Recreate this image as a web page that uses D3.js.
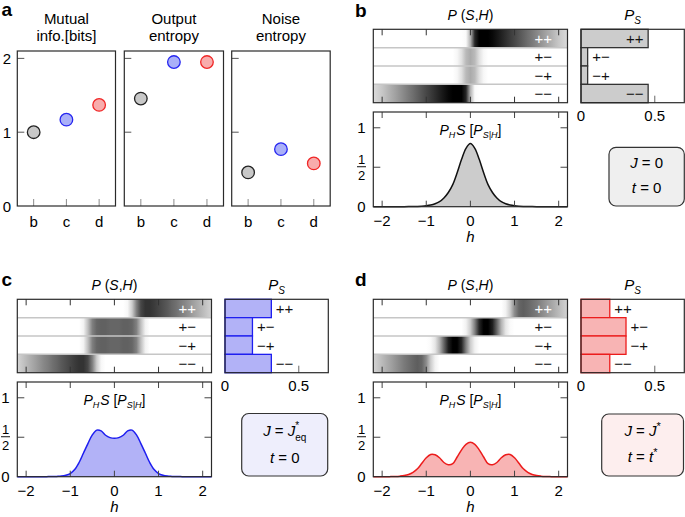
<!DOCTYPE html>
<html><head><meta charset="utf-8">
<script src="https://cdn.jsdelivr.net/npm/d3@7"></script>
<style>
body{margin:0;background:#fff}
svg{display:block}
text{font-family:"Liberation Sans",Arial,Helvetica,sans-serif}
</style>
</head><body>
<svg id="chart" width="685" height="517"></svg>
<script>
// ---------------- DATA ----------------
const cats = ["b", "c", "d"];
const mutualInfo = [1.0, 1.17, 1.37];
const outputEntropy = [1.455, 1.95, 1.95];
const noiseEntropy = [0.455, 0.77, 0.577];
const aTitles = [["Mutual", "info.[bits]"], ["Output", "entropy"], ["Noise", "entropy"]];
const aYTicks = [0, 1, 2];

const states = ["++", "+\u2212", "\u2212+", "\u2212\u2212"];
const hTicks = [-2, -1, 0, 1, 2];
const psTicks = [0, 0.5];

const hGrid = [-2.2,-2.1,-2.0,-1.9,-1.8,-1.7,-1.6,-1.5,-1.4,-1.3,-1.2,-1.1,-1.0,-0.9,-0.8,-0.7,-0.6,-0.5,-0.4,-0.3,-0.2,-0.1,0,0.1,0.2,0.3,0.4,0.5,0.6,0.7,0.8,0.9,1.0,1.1,1.2,1.3,1.4,1.5,1.6,1.7,1.8,1.9,2.0,2.1,2.2];

// P(S,H) intensity (1 = black) per row, panel b
const heatB_pp = [0,0,0,0,0,0,0,0,0,0,0,0,0,0,0,0,0,0,0,0,0,0.02,0.3,0.85,1,1,1,0.97,0.92,0.87,0.82,0.77,0.72,0.67,0.62,0.57,0.52,0.47,0.42,0.37,0.32,0.27,0.22,0.18,0.14];
const heatB_pm = [0,0,0,0,0,0,0,0,0,0,0,0,0,0,0,0,0,0,0,0.03,0.12,0.27,0.33,0.27,0.12,0.03,0,0,0,0,0,0,0,0,0,0,0,0,0,0,0,0,0,0,0];
const heatB_mp = [0,0,0,0,0,0,0,0,0,0,0,0,0,0,0,0,0,0,0,0.03,0.12,0.27,0.33,0.27,0.12,0.03,0,0,0,0,0,0,0,0,0,0,0,0,0,0,0,0,0,0,0];
const heatB_mm = [0.14,0.18,0.22,0.27,0.32,0.37,0.42,0.47,0.52,0.57,0.62,0.67,0.72,0.77,0.82,0.87,0.92,0.97,1,1,1,0.85,0.3,0.02,0,0,0,0,0,0,0,0,0,0,0,0,0,0,0,0,0,0,0,0,0];
// panel c
const heatC_pp = [0,0,0,0,0,0,0,0,0,0,0,0,0,0,0,0,0,0,0,0,0,0,0,0,0,0.03,0.2,0.5,0.72,0.8,0.8,0.77,0.73,0.69,0.65,0.6,0.56,0.51,0.47,0.42,0.37,0.32,0.27,0.22,0.17];
const heatC_pm = [0,0,0,0,0,0,0,0,0,0,0,0,0,0,0,0.05,0.25,0.5,0.6,0.62,0.62,0.6,0.6,0.6,0.62,0.62,0.6,0.5,0.25,0.05,0,0,0,0,0,0,0,0,0,0,0,0,0,0,0];
const heatC_mp = [0,0,0,0,0,0,0,0,0,0,0,0,0,0,0,0.05,0.25,0.5,0.6,0.62,0.62,0.6,0.6,0.6,0.62,0.62,0.6,0.5,0.25,0.05,0,0,0,0,0,0,0,0,0,0,0,0,0,0,0];
const heatC_mm = [0.17,0.22,0.27,0.32,0.37,0.42,0.47,0.51,0.56,0.6,0.65,0.69,0.73,0.77,0.8,0.8,0.72,0.5,0.2,0.03,0,0,0,0,0,0,0,0,0,0,0,0,0,0,0,0,0,0,0,0,0,0,0,0,0];
// panel d
const heatD_pp = [0,0,0,0,0,0,0,0,0,0,0,0,0,0,0,0,0,0,0,0,0,0,0,0,0,0,0,0,0,0,0.05,0.2,0.45,0.6,0.63,0.6,0.56,0.52,0.47,0.42,0.37,0.32,0.27,0.22,0.17];
const heatD_pm = [0,0,0,0,0,0,0,0,0,0,0,0,0,0,0,0,0,0,0,0,0,0.05,0.2,0.5,0.85,1,1,0.88,0.6,0.3,0.1,0.02,0,0,0,0,0,0,0,0,0,0,0,0,0];
const heatD_mp = [0,0,0,0,0,0,0,0,0,0,0,0,0,0.02,0.1,0.3,0.6,0.88,1,1,0.85,0.5,0.2,0.05,0,0,0,0,0,0,0,0,0,0,0,0,0,0,0,0,0,0,0,0,0];
const heatD_mm = [0.17,0.22,0.27,0.32,0.37,0.42,0.47,0.52,0.56,0.6,0.63,0.6,0.45,0.2,0.05,0,0,0,0,0,0,0,0,0,0,0,0,0,0,0,0,0,0,0,0,0,0,0,0,0,0,0,0,0,0];

// P_S bars
const psB = [0.455, 0.045, 0.045, 0.455];
const psC = [0.314, 0.186, 0.186, 0.314];
const psD = [0.195, 0.305, 0.305, 0.195];

// P_H S[P_S|H] curves on hGrid
const curveB = [0,0,0,0,0,0,0,0,0.001,0.002,0.004,0.007,0.012,0.021,0.037,0.063,0.11,0.18,0.28,0.43,0.60,0.74,0.80,0.74,0.60,0.43,0.28,0.18,0.11,0.063,0.037,0.021,0.012,0.007,0.004,0.002,0.001,0,0,0,0,0,0,0,0];
const curveC = [0,0,0,0,0,0,0,0.001,0.002,0.004,0.008,0.018,0.04,0.09,0.18,0.30,0.42,0.53,0.59,0.58,0.525,0.495,0.486,0.495,0.525,0.58,0.59,0.53,0.42,0.30,0.18,0.09,0.04,0.018,0.008,0.004,0.002,0.001,0,0,0,0,0,0,0];
const curveD = [0,0,0,0,0.001,0.003,0.007,0.014,0.028,0.055,0.10,0.17,0.24,0.282,0.278,0.24,0.18,0.152,0.165,0.25,0.34,0.41,0.435,0.41,0.34,0.25,0.165,0.152,0.18,0.24,0.278,0.282,0.24,0.17,0.10,0.055,0.028,0.014,0.007,0.003,0.001,0,0,0,0];

// ---------------- DRAW ----------------
const svg = d3.select("#chart");
const defs = svg.append("defs");
const FONT = "15px";
const DARK = "#2a2a2a";

function rich(sel, segs) {
  let cur = 0;
  segs.forEach(s => {
    const target = s.sub ? (s.sub === true ? 4 : s.sub) : s.sup ? (s.sup === true || s.sup === 1 ? -6 : s.sup) : 0;
    const ts = sel.append("tspan").text(s.t);
    if (target - cur !== 0) ts.attr("dy", target - cur);
    cur = target;
    if (s.i) ts.attr("font-style", "italic");
    if (s.fs) ts.attr("font-size", s.fs);
    if (s.dx) ts.attr("dx", s.dx);
  });
}

// panel letters
[["a", 1.5, 16], ["b", 355, 17], ["c", 1.5, 286], ["d", 355, 286]].forEach(([t, x, y]) =>
  svg.append("text").attr("x", x).attr("y", y).attr("font-size", "19px").attr("font-weight", "bold").text(t));

// ---------- Panel a ----------
const aData = [mutualInfo, outputEntropy, noiseEntropy];
const aX = [[17.3, 115.5], [124.3, 223.5], [231.7, 330.2]];
const yA = d3.scaleLinear().domain([0, 2.1]).range([206, 51]);
const aFill = ["#c8c8c8", "#aab0f8", "#f8acac"];
const aStroke = ["#222222", "#2626f0", "#f02626"];
aData.forEach((vals, k) => {
  const g = svg.append("g");
  const x = d3.scalePoint().domain(cats).range(aX[k]).padding(0.5);
  const [x0, x1] = aX[k];
  g.selectAll(".bt").data(cats).join("line")
    .attr("x1", d => x(d)).attr("x2", d => x(d))
    .attr("y1", yA(0)).attr("y2", yA(0) - 7)
    .attr("stroke", "#8a8a8a").attr("stroke-width", 1);
  g.selectAll(".lt").data(aYTicks.filter(t => t > 0)).join("line")
    .attr("x1", x0).attr("x2", x0 + 7)
    .attr("y1", d => yA(d)).attr("y2", d => yA(d))
    .attr("stroke", "#555").attr("stroke-width", 1);
  g.append("rect").attr("x", x0).attr("y", yA(2.1)).attr("width", x1 - x0).attr("height", yA(0) - yA(2.1))
    .attr("fill", "none").attr("stroke", DARK).attr("stroke-width", 1.2);
  g.selectAll(".lab").data(cats).join("text")
    .attr("x", d => x(d)).attr("y", 226.5).attr("text-anchor", "middle").attr("font-size", FONT).text(d => d);
  if (k === 0) {
    g.selectAll(".yl").data(aYTicks).join("text")
      .attr("x", 7).attr("y", d => yA(d) + 5.5).attr("text-anchor", "middle").attr("font-size", FONT).text(d => d);
  }
  aTitles[k].forEach((s, i) => g.append("text").attr("x", (x0 + x1) / 2).attr("y", 23.5 + i * 17.5)
    .attr("text-anchor", "middle").attr("font-size", FONT).text(s));
  g.selectAll("circle").data(vals).join("circle")
    .attr("cx", (d, i) => x(cats[i])).attr("cy", d => yA(d)).attr("r", 6.3)
    .attr("fill", (d, i) => aFill[i]).attr("stroke", (d, i) => aStroke[i]).attr("stroke-width", 1.3);
});

// ---------- Panels b, c, d ----------
const grey = d3.scaleLinear().domain([0, 1]).range(["#ffffff", "#000000"]);
const panels = [
  { id: "b", dx: 0, dy: 0, heat: [heatB_pp, heatB_pm, heatB_mp, heatB_mm], ps: psB, curve: curveB,
    fill: "#cccccc", stroke: "#111111", psFill: "#cccccc", psStroke: "#333333", boxFill: "#efefef",
    box: [609, 147.3, 684.3, 206],
    line1: [{ t: "J", i: 1 }, { t: " = 0" }], line2: [{ t: "t", i: 1 }, { t: " = 0" }], l1y: 168.3, l2y: 193 },
  { id: "c", dx: -356, dy: 270, heat: [heatC_pp, heatC_pm, heatC_mp, heatC_mm], ps: psC, curve: curveC,
    fill: "#b2b2f7", stroke: "#1e1ef0", psFill: "#b2b2f7", psStroke: "#1e1ef0", boxFill: "#eeeefc",
    box: [597.7, 143.5, 683.7, 206],
    line1: [{ t: "J", i: 1 }, { t: " = " }, { t: "J", i: 1 }, { t: "*", sup: -7, fs: "10px" }, { t: "eq", sub: 5, fs: "10px", dx: -4 }],
    line2: [{ t: "t", i: 1 }, { t: " = 0" }], l1y: 165.5, l2y: 193 },
  { id: "d", dx: 0, dy: 270, heat: [heatD_pp, heatD_pm, heatD_mp, heatD_mm], ps: psD, curve: curveD,
    fill: "#f8b4b4", stroke: "#ec1c1c", psFill: "#f8b4b4", psStroke: "#ec1c1c", boxFill: "#fdeeee",
    box: [601.7, 144, 683.5, 206],
    line1: [{ t: "J", i: 1 }, { t: " = " }, { t: "J", i: 1 }, { t: "*", sup: 1, fs: "11px" }],
    line2: [{ t: "t", i: 1 }, { t: " = " }, { t: "t", i: 1 }, { t: "*", sup: 1, fs: "11px" }], l1y: 166, l2y: 192 }
];

panels.forEach(p => {
  const g = svg.append("g").attr("transform", `translate(${p.dx},${p.dy})`);
  const xH = d3.scaleLinear().domain([-2.2, 2.2]).range([373.3, 567.5]);
  const [hx0, hx1] = xH.range();
  const yRow = d3.scaleBand().domain(states).range([29.3, 102.7]);
  const [hy0, hy1] = yRow.range();

  rich(g.append("text").attr("x", (hx0 + hx1) / 2).attr("y", 20).attr("text-anchor", "middle").attr("font-size", "14px"),
    [{ t: "P", i: 1 }, { t: " (" }, { t: "S", i: 1 }, { t: "," }, { t: "H", i: 1 }, { t: ")" }]);

  p.heat.forEach((vals, r) => {
    const id = `grad-${p.id}-${r}`;
    const lg = defs.append("linearGradient").attr("id", id).attr("gradientUnits", "userSpaceOnUse")
      .attr("x1", hx0).attr("x2", hx1).attr("y1", 0).attr("y2", 0);
    hGrid.forEach((h, i) => lg.append("stop")
      .attr("offset", (xH(h) - hx0) / (hx1 - hx0)).attr("stop-color", grey(vals[i])));
    g.append("rect").attr("x", hx0).attr("y", yRow(states[r])).attr("width", hx1 - hx0)
      .attr("height", yRow.bandwidth()).attr("fill", `url(#${id})`);
  });
  g.selectAll(".sep").data(states.slice(1)).join("line")
    .attr("x1", hx0).attr("x2", hx1).attr("y1", d => yRow(d)).attr("y2", d => yRow(d))
    .attr("stroke", "#c6c6c6").attr("stroke-width", 1.5);
  g.selectAll(".ht").data(hTicks).join("line")
    .attr("x1", d => xH(d)).attr("x2", d => xH(d)).attr("y1", hy0).attr("y2", hy0 + 6)
    .attr("stroke", "#333").attr("stroke-width", 1);
  g.selectAll(".hb").data(hTicks).join("line")
    .attr("x1", d => xH(d)).attr("x2", d => xH(d)).attr("y1", hy1).attr("y2", hy1 - 6)
    .attr("stroke", "#333").attr("stroke-width", 1);
  g.append("rect").attr("x", hx0).attr("y", hy0).attr("width", hx1 - hx0).attr("height", hy1 - hy0)
    .attr("fill", "none").attr("stroke", DARK).attr("stroke-width", 1.2);
  g.selectAll(".rl").data(states).join("text")
    .attr("x", xH(1.65)).attr("y", d => yRow(d) + yRow.bandwidth() / 2 + 5.5)
    .attr("text-anchor", "middle").attr("font-size", FONT)
    .attr("fill", (d, i) => i === 0 ? "#ffffff" : "#111").text(d => d);

  const xP = d3.scaleLinear().domain([0, 0.7]).range([581, 684.3]);
  rich(g.append("text").attr("x", (xP(0) + xP(0.7)) / 2).attr("y", 20).attr("text-anchor", "middle").attr("font-size", FONT),
    [{ t: "P", i: 1 }, { t: "S", i: 1, sub: 4, fs: "10px" }]);
  g.selectAll(".bar").data(p.ps).join("rect")
    .attr("x", xP(0)).attr("y", (d, i) => yRow(states[i]))
    .attr("width", d => xP(d) - xP(0)).attr("height", yRow.bandwidth())
    .attr("fill", p.psFill).attr("stroke", p.psStroke).attr("stroke-width", 1.3);
  g.append("line").attr("x1", xP(0.5)).attr("x2", xP(0.5)).attr("y1", hy1).attr("y2", hy1 - 7)
    .attr("stroke", "#666").attr("stroke-width", 1);
  g.append("rect").attr("x", xP(0)).attr("y", hy0).attr("width", xP(0.7) - xP(0)).attr("height", hy1 - hy0)
    .attr("fill", "none").attr("stroke", DARK).attr("stroke-width", 1.2);
  g.selectAll(".pl").data(p.ps).join("text")
    .attr("x", d => d > 0.4 ? xP(d) - 4.5 : xP(d) + 4.5)
    .attr("text-anchor", d => d > 0.4 ? "end" : "start")
    .attr("y", (d, i) => yRow(states[i]) + yRow.bandwidth() / 2 + 5.5)
    .attr("font-size", FONT).attr("fill", "#111").text((d, i) => states[i]);
  g.selectAll(".pt").data(psTicks).join("text")
    .attr("x", d => xP(d)).attr("y", 120.5).attr("text-anchor", "middle").attr("font-size", FONT).text(d => d);

  const yL = d3.scaleLinear().domain([0, 1.2]).range([206.7, 112]);
  const [ly0, ly1] = [yL(1.2), yL(0)];
  const area = d3.area().x((d, i) => xH(hGrid[i])).y0(yL(0)).y1(d => yL(d)).curve(d3.curveCatmullRom);
  const line = d3.line().x((d, i) => xH(hGrid[i])).y(d => yL(d)).curve(d3.curveCatmullRom);
  g.append("path").datum(p.curve).attr("d", area).attr("fill", p.fill);
  g.append("path").datum(p.curve).attr("d", line).attr("fill", "none").attr("stroke", p.stroke).attr("stroke-width", 1.5);
  g.selectAll(".lt").data(hTicks).join("line")
    .attr("x1", d => xH(d)).attr("x2", d => xH(d)).attr("y1", ly0).attr("y2", ly0 + 6)
    .attr("stroke", "#444").attr("stroke-width", 1);
  g.selectAll(".lb").data(hTicks).join("line")
    .attr("x1", d => xH(d)).attr("x2", d => xH(d)).attr("y1", ly1).attr("y2", ly1 - 6)
    .attr("stroke", "#444").attr("stroke-width", 1);
  [0.5, 1].forEach(v => {
    g.append("line").attr("x1", hx0).attr("x2", hx0 + 7).attr("y1", yL(v)).attr("y2", yL(v)).attr("stroke", "#444");
    g.append("line").attr("x1", hx1).attr("x2", hx1 - 7).attr("y1", yL(v)).attr("y2", yL(v)).attr("stroke", "#444");
  });
  g.append("rect").attr("x", hx0).attr("y", ly0).attr("width", hx1 - hx0).attr("height", ly1 - ly0)
    .attr("fill", "none").attr("stroke", DARK).attr("stroke-width", 1.2);
  g.append("text").attr("x", 361.5).attr("y", yL(1) + 5.5).attr("text-anchor", "middle").attr("font-size", FONT).text("1");
  g.append("text").attr("x", 361.5).attr("y", yL(0) + 5.5).attr("text-anchor", "middle").attr("font-size", FONT).text("0");
  g.append("text").attr("x", 361.5).attr("y", yL(0.5) - 3).attr("text-anchor", "middle").attr("font-size", "13px").text("1");
  g.append("line").attr("x1", 357).attr("x2", 366).attr("y1", yL(0.5) - 0.5).attr("y2", yL(0.5) - 0.5).attr("stroke", "#111").attr("stroke-width", 1);
  g.append("text").attr("x", 361.5).attr("y", yL(0.5) + 12.5).attr("text-anchor", "middle").attr("font-size", "13px").text("2");
  g.selectAll(".xl").data(hTicks).join("text")
    .attr("x", d => xH(d)).attr("y", 225.5).attr("text-anchor", "middle").attr("font-size", FONT)
    .text(d => d < 0 ? "\u2212" + Math.abs(d) : String(d));
  g.append("text").attr("x", xH(0)).attr("y", 241.5).attr("text-anchor", "middle").attr("font-size", FONT)
    .attr("font-style", "italic").text("h");
  rich(g.append("text").attr("x", xH(0)).attr("y", 135).attr("text-anchor", "middle").attr("font-size", "14px"),
    [{ t: "P", i: 1 }, { t: "H", i: 1, sub: 3, fs: "9px" }, { t: "S", i: 1, dx: 1 }, { t: " [" }, { t: "P", i: 1 },
     { t: "S|H", i: 1, sub: 3, fs: "9px" }, { t: "]" }]);

  const [bx0, by0, bx1, by1] = p.box;
  g.append("rect").attr("x", bx0).attr("y", by0).attr("width", bx1 - bx0).attr("height", by1 - by0)
    .attr("rx", 7).attr("ry", 7).attr("fill", p.boxFill).attr("stroke", "#333").attr("stroke-width", 1.2);
  rich(g.append("text").attr("x", (bx0 + bx1) / 2).attr("y", p.l1y).attr("text-anchor", "middle").attr("font-size", FONT), p.line1);
  rich(g.append("text").attr("x", (bx0 + bx1) / 2).attr("y", p.l2y).attr("text-anchor", "middle").attr("font-size", FONT), p.line2);
});
</script>
</body></html>
